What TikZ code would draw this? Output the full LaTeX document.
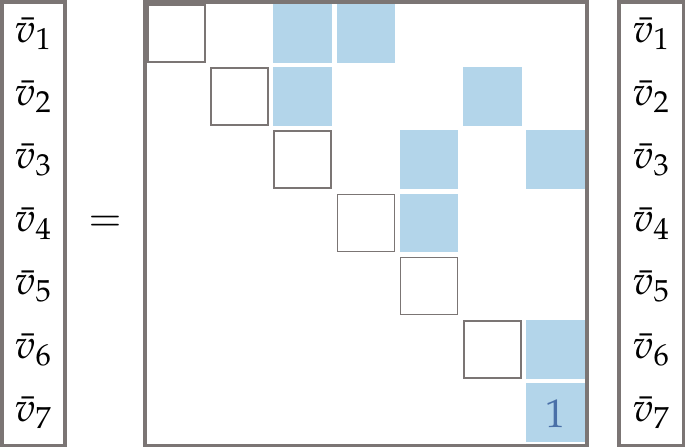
\documentclass[tikz,border=0pt]{standalone}
\usepackage{mathpazo}
\definecolor{framegray}{HTML}{7B7574}
\definecolor{cellblue}{HTML}{B3D5EA}
\definecolor{onecol}{HTML}{4A70A8}
\tikzset{
  frame/.style={draw=framegray, line width=3.5pt},
  bluecell/.style={fill=cellblue, draw=none},
  diagcell/.style={draw=framegray, line width=1.6pt},
  entry/.style={anchor=base, inner sep=0pt, font=\fontsize{40}{48}\selectfont},
}
\newcommand{\cellat}[3]{% #1 row, #2 col, #3 style
  \path[#3] ({147+63.2*(#2-1)},{4+63.2*(#1-1)}) rectangle ++(58.5,58.5);}
\newcommand{\dcellat}[2]{%
  \path[diagcell] ({147+63.2*(#2-1)+0.8},{4+63.2*(#1-1)+0.8}) rectangle ++(56.9,56.9);}
\begin{document}
\begin{tikzpicture}[x=1pt,y=-1pt]
\useasboundingbox (0,0) rectangle (685,447);
% blue cells
\cellat{1}{3}{bluecell}
\cellat{1}{4}{bluecell}
\cellat{2}{3}{bluecell}
\cellat{2}{6}{bluecell}
\cellat{3}{5}{bluecell}
\cellat{3}{7}{bluecell}
\cellat{4}{5}{bluecell}
\cellat{6}{7}{bluecell}
\cellat{7}{7}{bluecell}
% diagonal outlined cells
\foreach \i in {1,...,6} {\dcellat{\i}{\i}}
% one
\node[entry, text=onecol] (one) at ({147+63.2*6+29.25},{4+63.2*6+44}) {$1$};
% frames
\draw[frame] (1.75,1.75) rectangle (65,445.25);
\draw[frame] (145,1.75) rectangle (587,445.25);
\draw[frame] (619,1.75) rectangle (683.25,445.25);
% entries
\foreach \i in {1,...,7} {
  \node[entry] (l\i) at (33,{42+63.2*(\i-1)}) {$\bar{v}_{\i}$};
  \node[entry] (r\i) at (651,{42+63.2*(\i-1)}) {$\bar{v}_{\i}$};
}
\node[entry] (eq) at (105,{42+63.2*3}) {$=$};
\end{tikzpicture}
\end{document}
